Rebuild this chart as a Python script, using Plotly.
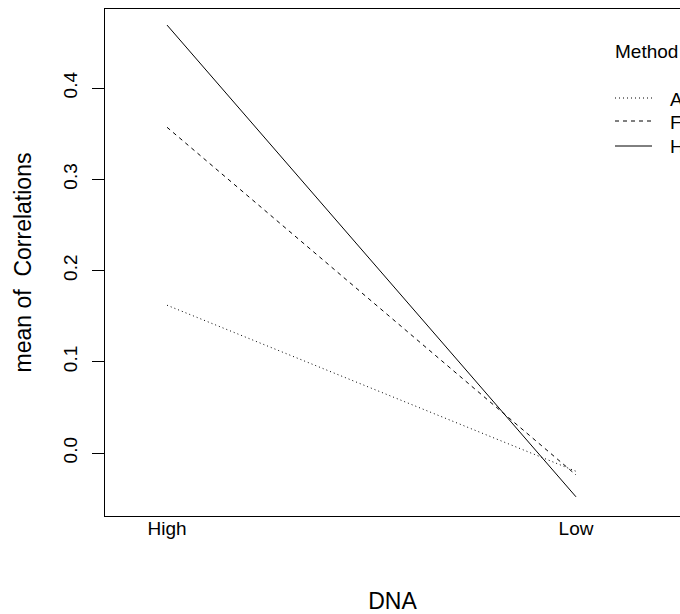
import plotly.graph_objects as go

# Data
dna_levels = ["High", "Low"]
methods = ["A", "F", "H"]
mean_corr_A = [0.162, -0.020]
mean_corr_F = [0.357, -0.024]
mean_corr_H = [0.469, -0.048]
series = [mean_corr_A, mean_corr_F, mean_corr_H]
dashes = ["1px,3px", "4px,4px", "solid"]

W, H = 680, 614
L, R, T, B = 105, 0, 9, 98
pw, ph = W - L - R, H - T - B
FS = 19

fig = go.Figure()
for name, vals, d in zip(methods, series, dashes):
    fig.add_trace(go.Scatter(x=dna_levels, y=vals, mode="lines", name=name,
                             line=dict(color="black", width=1, dash=d),
                             showlegend=False))

def px_x(p):
    return (p - L) / pw

def px_y(p):
    return (H - B - p) / ph

# Legend drawn R-style
fig.add_annotation(x=px_x(613), y=px_y(52), xref="paper", yref="paper", text="Method",
                   showarrow=False, xanchor="left", yanchor="middle",
                   font=dict(size=FS, color="black"))
leg_y = [98, 121, 146]
for name, d, yy in zip(methods, dashes, leg_y):
    fig.add_shape(type="line", xref="paper", yref="paper",
                  x0=px_x(615), x1=px_x(652), y0=px_y(yy), y1=px_y(yy),
                  line=dict(color="black", width=1, dash=d))
    fig.add_annotation(x=px_x(668), y=px_y(yy + 1), xref="paper", yref="paper", text=name,
                       showarrow=False, xanchor="left", yanchor="middle",
                       font=dict(size=FS, color="black"))

fig.update_layout(
    width=W, height=H,
    margin=dict(l=L, r=R, t=T, b=B, pad=0),
    plot_bgcolor="white", paper_bgcolor="white",
    font=dict(family="Liberation Sans, Arial, sans-serif", size=FS, color="black"),
    showlegend=False,
)
fig.update_xaxes(
    type="category", range=[-62 / 409, 1 + 104 / 409],
    showgrid=False, zeroline=False, showline=True, mirror=True,
    linecolor="black", linewidth=1, ticks="", ticklabelstandoff=-5,
    title=dict(text="DNA", standoff=55),
)
fig.update_yaxes(
    range=[-0.069, 0.4866], tickvals=[0, 0.1, 0.2, 0.3, 0.4],
    ticktext=["0.0", "0.1", "0.2", "0.3", "0.4"],
    showgrid=False, zeroline=False, showline=True, mirror=False,
    linecolor="black", linewidth=1, ticks="outside", ticklen=12, tickcolor="black",
    tickangle=-90, ticklabelstandoff=7,
    title=dict(text="mean of  Correlations", standoff=22),
)

fig.write_html("out.html")
